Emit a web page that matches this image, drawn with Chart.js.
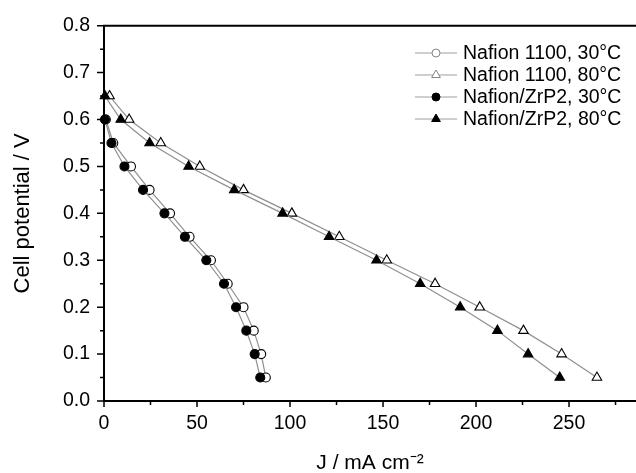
<!DOCTYPE html>
<html>
<head>
<meta charset="utf-8">
<script src="https://cdn.jsdelivr.net/npm/chart.js@4.4.1/dist/chart.umd.min.js"></script>
<style>
  html, body { margin: 0; padding: 0; background: #fff; }
  #wrap { width: 636px; height: 473px; }
</style>
</head>
<body>
<div id="wrap"><canvas id="myChart" width="636" height="473"></canvas></div>
<script>
// cell potential steps (V)
const potential30 = [0.60, 0.55, 0.50, 0.45, 0.40, 0.35, 0.30, 0.25, 0.20, 0.15, 0.10, 0.05];
const potential80 = [0.65, 0.60, 0.55, 0.50, 0.45, 0.40, 0.35, 0.30, 0.25, 0.20, 0.15, 0.10, 0.05];

// current density J (mA cm-2)
const nafion30 = [1, 5, 14.5, 24.5, 35.5, 46, 57.5, 66.5, 75, 80.5, 84.5, 87];
const nafion80 = [3, 13.5, 30.5, 51.5, 75, 101, 126.5, 152, 178, 202, 225.5, 246, 265];
const zrp30 = [0.5, 4, 11, 21, 32.5, 43.5, 55, 64.5, 71, 76.5, 81, 84];
const zrp80 = [0.5, 9, 24.5, 45.5, 70, 96, 121, 146.5, 170, 191.5, 211.5, 228, 245];

const labels = ['Nafion 1100, 30°C', 'Nafion 1100, 80°C', 'Nafion/ZrP2, 30°C', 'Nafion/ZrP2, 80°C'];

const xMajor = [0, 50, 100, 150, 200, 250];
const xMinor = [25, 75, 125, 175, 225, 275];
const yMajor = [0.0, 0.1, 0.2, 0.3, 0.4, 0.5, 0.6, 0.7, 0.8];
const yMinor = [0.05, 0.15, 0.25, 0.35, 0.45, 0.55, 0.65, 0.75];

const lineGrey = '#8f8f8f';

function series(label, xs, ys, style, filled, order) {
    return {
        label: label,
        data: xs.map((x, i) => ({ x: x, y: ys[i] })),
        showLine: true,
        borderColor: lineGrey,
        borderWidth: 1.2,
        tension: 0,
        pointStyle: style,
        pointRadius: style === 'circle' ? 4.5 : 5.5,
        pointBackgroundColor: filled ? '#000' : '#fff',
        pointBorderColor: '#000',
        pointBorderWidth: 1.1,
        order: order,
        clip: false
    };
}

const datasets = [
    series(labels[0], nafion30, potential30, 'circle', false, 2),
    series(labels[1], nafion80, potential80, 'triangle', false, 2),
    series(labels[2], zrp30, potential30, 'circle', true, 1),
    series(labels[3], zrp80, potential80, 'triangle', true, 1)
];

function drawMarker(ctx, style, filled, x, y) {
    ctx.save();
    ctx.beginPath();
    if (style === 'circle') {
        ctx.arc(x, y, 4, 0, Math.PI * 2);
    } else {
        const r = 5;
        ctx.moveTo(x, y - r);
        ctx.lineTo(x + r * Math.sin(Math.PI * 2 / 3), y + r / 2);
        ctx.lineTo(x - r * Math.sin(Math.PI * 2 / 3), y + r / 2);
        ctx.closePath();
    }
    ctx.fillStyle = filled ? '#000' : '#fff';
    ctx.fill();
    ctx.lineWidth = filled ? 1 : 0.9;
    ctx.strokeStyle = filled ? '#000' : '#777';
    ctx.stroke();
    ctx.restore();
}

// frame, tick marks and the inset legend
const framePlugin = {
    id: 'frame',
    afterDraw(chart) {
        const ctx = chart.ctx;
        const area = chart.chartArea;
        const xs = chart.scales.x, ys = chart.scales.y;
        ctx.save();
        ctx.strokeStyle = '#000';
        ctx.lineWidth = 2;
        ctx.beginPath();
        ctx.moveTo(area.left - 1, area.top);
        ctx.lineTo(area.right, area.top);
        ctx.stroke();

        ctx.lineWidth = 1.5;
        ctx.beginPath();
        xMajor.forEach(v => { const p = xs.getPixelForValue(v); ctx.moveTo(p, area.bottom); ctx.lineTo(p, area.bottom + 6); });
        xMinor.forEach(v => { const p = xs.getPixelForValue(v); ctx.moveTo(p, area.bottom); ctx.lineTo(p, area.bottom + 4); });
        yMajor.forEach(v => { const p = ys.getPixelForValue(v); ctx.moveTo(area.left, p); ctx.lineTo(area.left - 7, p); });
        yMinor.forEach(v => { const p = ys.getPixelForValue(v); ctx.moveTo(area.left, p); ctx.lineTo(area.left - 4, p); });
        ctx.stroke();

        // legend
        ctx.font = '19.5px "Liberation Sans", Arial, sans-serif';
        ctx.textBaseline = 'middle';
        ctx.fillStyle = '#000';
        chart.data.datasets.forEach((d, i) => {
            const y = 53 + i * 22;
            ctx.strokeStyle = '#a0a0a0';
            ctx.lineWidth = 1.2;
            ctx.beginPath();
            ctx.moveTo(415, y);
            ctx.lineTo(457, y);
            ctx.stroke();
            drawMarker(ctx, d.pointStyle, d.pointBackgroundColor === '#000', 436, y);
            ctx.fillText(d.label, 463, y + 1);
        });
        ctx.restore();
    }
};

Chart.defaults.font.family = '"Liberation Sans", Arial, sans-serif';
Chart.defaults.color = '#000';

const ctx = document.getElementById('myChart').getContext('2d');
const myChart = new Chart(ctx, {
    type: 'scatter',
    data: { datasets: datasets },
    options: {
        responsive: false,
        animation: false,
        layout: { autoPadding: false, padding: { top: 23, right: 0, left: 0, bottom: 0 } },
        plugins: {
            legend: { display: false },
            tooltip: { enabled: false }
        },
        scales: {
            x: {
                type: 'linear',
                min: 0,
                max: 286,
                afterBuildTicks: (scale) => { scale.ticks = xMajor.map(v => ({ value: v })); },
                afterFit: (scale) => { scale.height = 72; },
                ticks: { font: { size: 19.5 }, padding: 11, callback: (v) => String(v), maxRotation: 0 },
                grid: { display: false, drawTicks: false },
                border: { display: true, color: '#000', width: 2 },
                title: { display: true, text: 'J / mA cm⁻²', font: { size: 21 }, padding: { top: 4, bottom: -3 } }
            },
            y: {
                type: 'linear',
                min: 0,
                max: 0.8,
                afterBuildTicks: (scale) => { scale.ticks = yMajor.map(v => ({ value: v })); },
                afterFit: (scale) => { scale.width = 104; },
                ticks: { font: { size: 19.5 }, padding: 14, callback: (v) => v.toFixed(1) },
                grid: { display: false, drawTicks: false },
                border: { display: true, color: '#000', width: 2 },
                title: { display: true, text: 'Cell potential / V', font: { size: 22 }, padding: { top: 10, bottom: 4 } }
            }
        }
    },
    plugins: [framePlugin]
});
</script>
</body>
</html>
